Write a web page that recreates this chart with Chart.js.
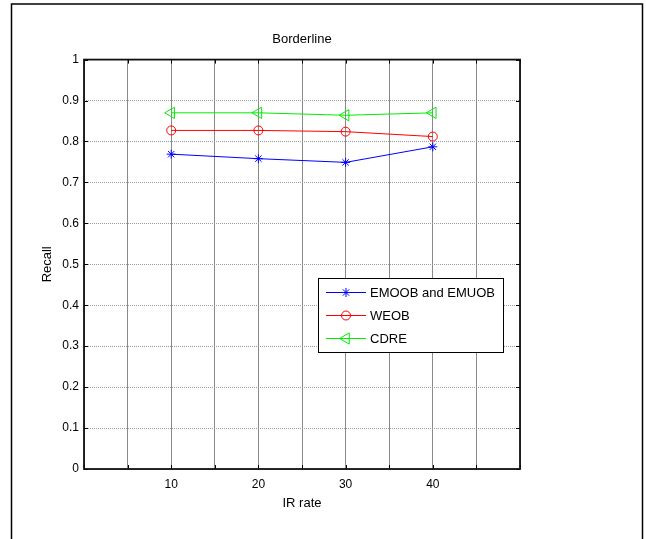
<!DOCTYPE html>
<html>
<head>
<meta charset="utf-8">
<script src="https://cdn.jsdelivr.net/npm/chart.js@4/dist/chart.umd.min.js"></script>
<style>
  body { margin: 0; background: #fff; }
  #wrap { width: 646px; height: 539px; }
</style>
</head>
<body>
<div id="wrap"><canvas id="recallChart" width="646" height="539"></canvas></div>
<script>
// values
const irRates = [10, 20, 30, 40];
const xTickLabels = [10, 20, 30, 40];
const emoobRecall = [0.769, 0.758, 0.749, 0.787];
const weobRecall = [0.827, 0.827, 0.824, 0.812];
const cdreRecall = [0.870, 0.870, 0.864, 0.870];

const FONT = "'Liberation Sans', Arial, sans-serif";
Chart.defaults.color = '#000';
Chart.defaults.font.family = FONT;

function toPoints(ys) {
  return irRates.map((x, i) => ({ x: x, y: ys[i] }));
}

// white page + open frame like the original figure
const pageFrame = {
  id: 'pageFrame',
  beforeDraw(chart) {
    const ctx = chart.ctx;
    ctx.save();
    ctx.fillStyle = '#fff';
    ctx.fillRect(0, 0, chart.width, chart.height);
    ctx.strokeStyle = '#000';
    ctx.lineWidth = 1.5;
    ctx.beginPath();
    ctx.moveTo(11.5, chart.height);
    ctx.lineTo(11.5, 4);
    ctx.lineTo(642.5, 4);
    ctx.lineTo(642.5, chart.height);
    ctx.stroke();
    ctx.restore();
  }
};

// axes box with inward tick marks (matlab style)
const axesBox = {
  id: 'axesBox',
  afterDatasetsDraw(chart) {
    const { ctx, chartArea: a, scales } = chart;
    ctx.save();
    ctx.strokeStyle = '#000';
    ctx.lineWidth = 1;
    ctx.beginPath();
    scales.x.ticks.forEach(t => {
      const px = Math.round(scales.x.getPixelForValue(t.value)) + 0.5;
      ctx.moveTo(px, a.bottom); ctx.lineTo(px, a.bottom - 4);
      ctx.moveTo(px, a.top); ctx.lineTo(px, a.top + 4);
    });
    scales.y.ticks.forEach(t => {
      const py = Math.round(scales.y.getPixelForValue(t.value)) + 0.5;
      ctx.moveTo(a.left, py); ctx.lineTo(a.left + 4, py);
      ctx.moveTo(a.right, py); ctx.lineTo(a.right - 4, py);
    });
    ctx.stroke();
    ctx.lineWidth = 1.8;
    ctx.strokeStyle = '#111';
    ctx.strokeRect(a.left, a.top, a.right - a.left, a.bottom - a.top);
    ctx.restore();
  }
};

// legend box inside the plot
const boxLegend = {
  id: 'boxLegend',
  afterDraw(chart) {
    const ctx = chart.ctx;
    const x0 = 318, y0 = 278, w = 185, h = 74;
    const rows = [292, 315, 338];
    ctx.save();
    ctx.fillStyle = '#fff';
    ctx.fillRect(x0, y0, w, h);
    ctx.strokeStyle = '#000';
    ctx.lineWidth = 1;
    ctx.strokeRect(x0 + 0.5, y0 + 0.5, w, h);
    chart.data.datasets.forEach((ds, i) => {
      const y = rows[i];
      ctx.strokeStyle = ds.borderColor;
      ctx.fillStyle = 'rgba(0,0,0,0)';
      ctx.lineWidth = 1;
      ctx.beginPath();
      ctx.moveTo(326, y + 0.5);
      ctx.lineTo(366, y + 0.5);
      ctx.stroke();
      Chart.helpers.drawPoint(ctx, {
        pointStyle: ds.pointStyle,
        rotation: ds.pointRotation || 0,
        radius: ds.pointRadius,
        borderWidth: 1
      }, 346, y + 0.5);
      ctx.fillStyle = '#000';
      ctx.font = '13px ' + FONT;
      ctx.textBaseline = 'middle';
      ctx.textAlign = 'left';
      ctx.fillText(ds.label, 370, y + 1);
    });
    ctx.restore();
  }
};

const ctx = document.getElementById('recallChart').getContext('2d');
new Chart(ctx, {
  type: 'line',
  data: {
    datasets: [
      {
        label: 'EMOOB and EMUOB',
        data: toPoints(emoobRecall),
        borderColor: '#0000ff',
        backgroundColor: 'transparent',
        borderWidth: 1,
        pointStyle: 'star',
        pointRadius: 4.5,
        pointBorderWidth: 1
      },
      {
        label: 'WEOB',
        data: toPoints(weobRecall),
        borderColor: '#ff0000',
        backgroundColor: 'transparent',
        borderWidth: 1,
        pointStyle: 'circle',
        pointRadius: 4.5,
        pointBorderWidth: 1
      },
      {
        label: 'CDRE',
        data: toPoints(cdreRecall),
        borderColor: '#00ee00',
        backgroundColor: 'transparent',
        borderWidth: 1,
        pointStyle: 'triangle',
        pointRotation: -90,
        pointRadius: 6.5,
        pointBorderWidth: 1
      }
    ]
  },
  options: {
    responsive: false,
    animation: false,
    layout: { padding: { left: 0, right: 126, top: 0, bottom: 0 } },
    plugins: {
      legend: { display: false },
      tooltip: { enabled: false },
      title: {
        display: true,
        text: 'Borderline',
        fullSize: false,
        font: { size: 13, weight: 'normal', family: FONT, lineHeight: 1.2 },
        padding: { top: 32, bottom: 12 }
      }
    },
    scales: {
      x: {
        type: 'linear',
        min: 0,
        max: 50,
        afterFit(scale) { scale.height = 70; },
        ticks: {
          stepSize: 5,
          padding: 8,
          autoSkip: false,
          maxRotation: 0,
          font: { size: 12 },
          callback: v => xTickLabels.includes(v) ? String(v) : ''
        },
        grid: { color: '#8a8a8a', lineWidth: 1, drawTicks: false },
        border: { display: false },
        title: {
          display: true,
          text: 'IR rate',
          font: { size: 13, lineHeight: 1.2 },
          padding: { top: 0, bottom: 28 }
        }
      },
      y: {
        min: 0,
        max: 1,
        afterFit(scale) { scale.width = 84; },
        ticks: {
          stepSize: 0.1,
          padding: 5,
          font: { size: 12 },
          callback: v => String(Number(v.toFixed(1)))
        },
        grid: { color: '#9a9a9a', lineWidth: 1, drawTicks: false },
        border: { display: false, dash: [1, 1] },
        title: {
          display: true,
          text: 'Recall',
          font: { size: 13, lineHeight: 1.2 },
          padding: { top: 40, bottom: 0 }
        }
      }
    }
  },
  plugins: [pageFrame, axesBox, boxLegend]
});
</script>
</body>
</html>
